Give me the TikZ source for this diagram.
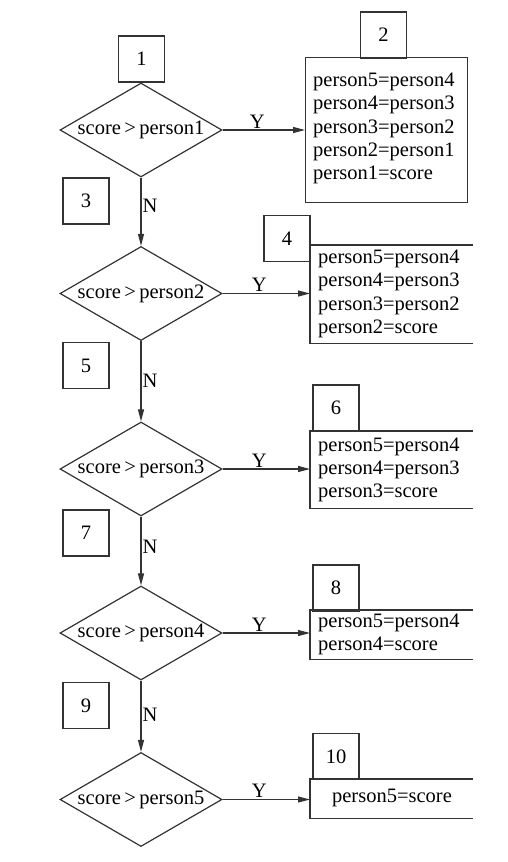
\documentclass[tikz,border=0pt]{standalone}
\usepackage{fontspec}
\setmainfont{Liberation Serif}
\usetikzlibrary{shapes.geometric,arrows.meta}
\begin{document}
\begin{tikzpicture}[x=1pt,y=-1pt,
  every node/.style={font=\rmfamily\fontsize{20.5}{24}\selectfont, text=black},
  dec/.style={draw=black!80, line width=1.2pt, shape=diamond, inner sep=0pt, minimum width=162pt, minimum height=94pt},
  numbox/.style={draw=black!80, line width=1.2pt, minimum width=46pt, minimum height=46pt, inner sep=0pt},
  mainbox/.style={draw=black!80, line width=1.2pt, inner sep=0pt, minimum width=163pt, anchor=north west},
  openbox/.style={inner sep=0pt, minimum width=163pt, anchor=north west},
  txt/.style={align=left, inner sep=0pt, font=\rmfamily\fontsize{20.5}{23.4}\selectfont},
  arr/.style={draw=black!80, line width=1.2pt, -{Triangle[length=12pt,width=6pt]}},
  lbl/.style={inner sep=1pt}]
\useasboundingbox (0,0) rectangle (507,862);
% decisions
\node[dec] (d1) at (141,130) {\makebox[0pt]{score\,>\,person1}};
\node[dec] (d2) at (141,293.5) {\makebox[0pt]{score\,>\,person2}};
\node[dec] (d3) at (141,469) {\makebox[0pt]{score\,>\,person3}};
\node[dec] (d4) at (141,633) {\makebox[0pt]{score\,>\,person4}};
\node[dec] (d5) at (141,799.5) {\makebox[0pt]{score\,>\,person5}};
% left number boxes
\node[numbox] (n1) at (141.5,59) {1};
\node[numbox] (n3) at (86,201) {3};
\node[numbox] (n5) at (86,365.5) {5};
\node[numbox] (n7) at (86,533) {7};
\node[numbox] (n9) at (86,705.5) {9};
% right number boxes
\node[numbox] (n2) at (383.5,35) {2};
\node[numbox] (n4) at (287,238.5) {4};
\node[numbox] (n6) at (336,408) {6};
\node[numbox] (n8) at (336,588) {8};
\node[numbox] (n10) at (336,756.5) {10};
% action boxes
\node[mainbox, minimum width=162pt, minimum height=145pt] (b2) at (305,57) {};
\node[txt, anchor=west] (t2) at (313,128.5) {person5=person4\\person4=person3\\person3=person2\\person2=person1\\person1=score};
\node[openbox, minimum height=98pt] (b4) at (310,245) {};
\node[txt, anchor=west] (t4) at (318,294) {person5=person4\\person4=person3\\person3=person2\\person2=score};
\node[openbox, minimum height=77pt] (b6) at (310,431) {};
\node[txt, anchor=west] (t6) at (318,470) {person5=person4\\person4=person3\\person3=score};
\node[openbox, minimum height=49pt] (b8) at (310,610) {};
\node[txt, anchor=west] (t8) at (318,634.5) {person5=person4\\person4=score};
\node[openbox, minimum height=39pt] (b10) at (310,779) {};
\node[txt] (t10) at (392,798) {person5=score};
\foreach \b in {b4,b6,b8,b10}{
  \draw[black!80, line width=1.2pt] (\b.north east) -- (\b.north west) -- (\b.south west) -- (\b.south east);
}
% Y arrows
\draw[arr] (d1.east) -- (d1.east -| b2.west) node[lbl, pos=0.42, above] {Y};
\draw[arr] (d2.east) -- (d2.east -| b4.west) node[lbl, pos=0.42, above] {Y};
\draw[arr] (d3.east) -- (d3.east -| b6.west) node[lbl, pos=0.42, above] {Y};
\draw[arr] (d4.east) -- (d4.east -| b8.west) node[lbl, pos=0.42, above] {Y};
\draw[arr] (d5.east) -- (d5.east -| b10.west) node[lbl, pos=0.42, above] {Y};
% N arrows
\draw[arr] (d1.south) -- (d2.north) node[lbl, pos=0.42, right] {N};
\draw[arr] (d2.south) -- (d3.north) node[lbl, pos=0.49, right] {N};
\draw[arr] (d3.south) -- (d4.north) node[lbl, pos=0.44, right] {N};
\draw[arr] (d4.south) -- (d5.north) node[lbl, pos=0.48, right] {N};
\end{tikzpicture}
\end{document}
